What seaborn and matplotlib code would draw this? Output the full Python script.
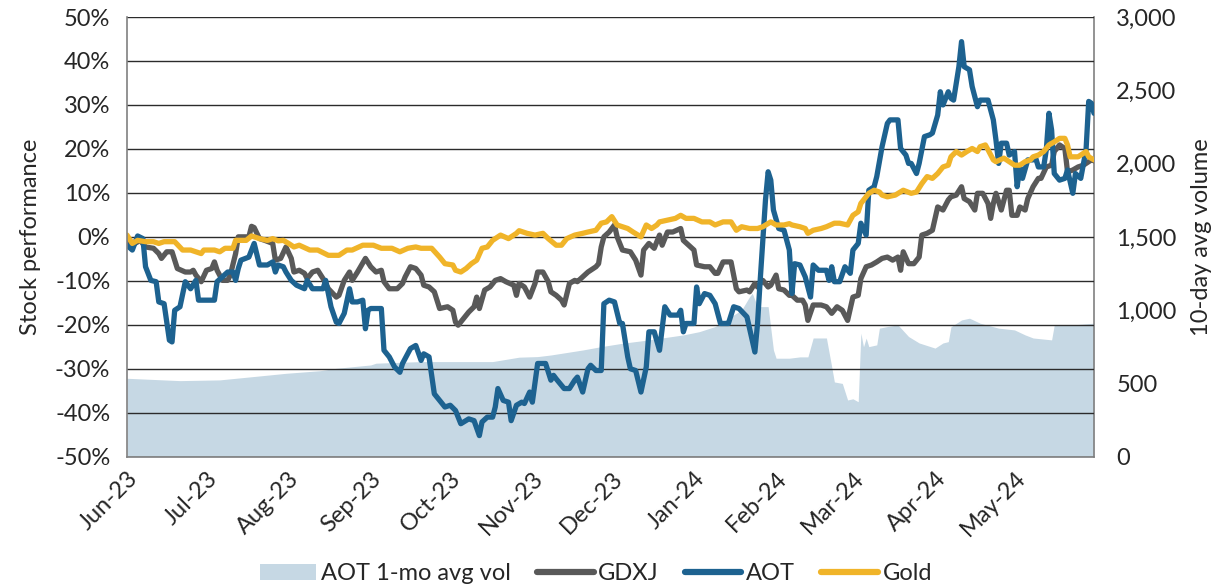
import matplotlib
matplotlib.use("Agg")
import matplotlib.pyplot as plt
import matplotlib.dates as mdates
import matplotlib.ticker as mticker
from matplotlib.patches import Patch
from matplotlib.lines import Line2D
import numpy as np
import pandas as pd
import seaborn as sns

# ---------------- data ----------------
START = "2023-06-01"
END = "2024-05-31"

# days since START, and % performance
aot_day = [0, 2, 4, 6, 7, 9, 11, 12, 14, 16,
           17, 18, 20, 22, 24, 26, 27, 33, 34, 36,
           38, 40, 41, 42, 43, 46, 48, 50, 53, 55,
           56, 57, 59, 60, 62, 64, 67, 68, 70, 74,
           75, 77, 79, 80, 82, 84, 85, 87, 89, 90,
           91, 92, 96, 97, 99, 101, 103, 104, 107, 109,
           111, 112, 114, 116, 118, 120, 122, 124, 126, 129,
           131, 133, 134, 136, 138, 139, 140, 142, 144, 145,
           147, 149, 150, 152, 153, 155, 158, 160, 161, 162,
           165, 167, 169, 170, 172, 174, 175, 177, 179, 180,
           182, 184, 186, 187, 189, 190, 192, 194, 196, 197,
           199, 201, 203, 205, 208, 209, 210, 211, 214, 215,
           216, 218, 220, 222, 224, 227, 229, 231, 234, 236,
           237, 238, 239, 241, 242, 243, 244, 246, 248, 250,
           251, 252, 254, 256, 258, 259, 261, 264, 265, 266,
           267, 269, 271, 273, 274, 276, 277, 279, 280, 282,
           283, 285, 287, 288, 291, 292, 294, 295, 296, 298,
           299, 301, 303, 304, 306, 307, 308, 310, 311, 312,
           314, 315, 316, 318, 319, 321, 322, 325, 327, 328,
           329, 330, 332, 333, 335, 336, 337, 338, 340, 342,
           343, 344, 346, 347, 348, 349, 350, 352, 354, 355,
           357, 358, 360, 362, 363, 364, 365]
aot_pct = [-1.9, -3.0, 0.2, -0.4, -6.8, -9.9, -10.2, -14.8, -15.2, -23.5,
           -23.9, -16.7, -15.9, -10.2, -11.8, -9.9, -14.4, -14.4, -10.2, -9.1,
           -8.0, -8.0, -9.9, -7.2, -5.3, -4.6, -1.5, -6.4, -6.4, -5.7,
           -8.0, -6.4, -6.8, -8.0, -9.9, -11.0, -11.8, -9.9, -11.8, -11.8,
           -9.9, -15.9, -19.4, -19.7, -17.4, -11.8, -14.8, -14.8, -14.4, -20.9,
           -16.7, -16.3, -16.3, -25.8, -27.3, -29.6, -30.8, -28.8, -25.4, -24.7,
           -28.1, -26.6, -27.3, -35.7, -37.2, -38.7, -38.3, -39.5, -42.5, -41.4,
           -41.8, -45.2, -42.1, -41.0, -41.0, -38.7, -34.5, -37.2, -37.6, -41.8,
           -38.3, -37.6, -37.9, -35.3, -37.6, -28.8, -28.8, -32.6, -31.5, -32.3,
           -34.5, -34.5, -32.6, -31.9, -35.3, -30.0, -29.2, -30.4, -30.4, -15.2,
           -14.4, -14.8, -19.7, -19.7, -27.3, -30.0, -30.4, -35.3, -29.6, -21.6,
           -21.6, -25.8, -15.9, -17.8, -17.8, -16.7, -21.6, -19.7, -19.7, -11.4,
           -15.2, -12.9, -13.3, -15.2, -19.7, -19.7, -15.9, -16.3, -18.2, -23.5,
           -26.2, -19.7, -9.9, 8.4, 14.8, 12.9, 6.1, 1.9, 1.5, -3.0,
           -12.9, -6.1, -6.4, -9.1, -13.7, -6.4, -7.6, -7.6, -9.9, -6.8,
           -10.2, -10.2, -6.8, -8.3, -3.0, -1.5, 3.1, 0.4, 10.6, 11.4,
           13.7, 20.5, 25.8, 26.6, 26.6, 20.1, 18.6, 16.7, 16.7, 14.4,
           16.7, 22.8, 23.2, 23.6, 27.7, 33.0, 30.0, 33.0, 31.5, 31.1,
           38.7, 44.4, 38.7, 38.0, 34.2, 29.6, 31.1, 31.1, 26.6, 22.0,
           16.7, 21.3, 21.3, 18.6, 19.4, 11.4, 15.9, 13.3, 17.5, 17.5,
           17.9, 15.9, 15.9, 19.8, 28.1, 24.3, 14.4, 12.9, 13.3, 15.2,
           9.9, 14.4, 13.3, 19.8, 30.8, 30.4, 28.1]

gdxj_day = [0, 3, 5, 7, 10, 12, 13, 15, 17, 19,
            22, 24, 25, 26, 28, 30, 32, 33, 34, 36,
            38, 39, 41, 42, 46, 47, 48, 50, 52, 55,
            56, 58, 60, 62, 63, 65, 67, 68, 70, 72,
            74, 76, 79, 80, 82, 84, 85, 87, 90, 92,
            94, 96, 97, 99, 102, 104, 105, 107, 109, 111,
            112, 114, 116, 118, 121, 123, 124, 125, 127, 129,
            131, 132, 133, 135, 137, 139, 141, 143, 146, 147,
            148, 150, 152, 154, 155, 157, 159, 160, 162, 164,
            165, 167, 169, 170, 172, 174, 175, 177, 178, 179,
            180, 182, 184, 185, 187, 190, 192, 194, 195, 197,
            199, 201, 202, 204, 206, 209, 210, 212, 214, 215,
            218, 220, 222, 223, 225, 228, 230, 231, 234, 235,
            237, 238, 240, 242, 243, 245, 246, 248, 250, 251,
            253, 255, 256, 257, 259, 262, 264, 266, 268, 270,
            272, 274, 276, 277, 279, 281, 283, 285, 287, 289,
            291, 292, 293, 295, 297, 299, 300, 302, 304, 306,
            308, 310, 311, 313, 315, 316, 318, 320, 321, 323,
            325, 326, 327, 328, 330, 332, 333, 334, 336, 337,
            339, 340, 342, 344, 345, 347, 349, 350, 352, 354,
            355, 357, 359, 361, 362, 364, 365]
gdxj_pct = [-1.1, -1.5, -0.8, -2.3, -2.6, -3.8, -4.9, -3.4, -3.4, -7.2,
            -8.0, -8.0, -7.6, -8.7, -10.2, -7.6, -7.2, -5.7, -7.6, -9.9,
            -9.9, -8.7, -3.8, 0.0, 0.0, 2.4, 2.1, -0.4, -0.8, -1.5,
            -5.3, -4.9, -2.3, -4.9, -8.0, -7.6, -8.3, -9.5, -8.0, -7.6,
            -9.5, -11.8, -13.7, -13.3, -9.9, -8.0, -9.9, -8.0, -4.9, -6.8,
            -8.0, -7.6, -10.2, -11.8, -11.8, -10.6, -9.1, -6.8, -7.2, -8.7,
            -11.0, -11.4, -12.5, -16.3, -15.9, -16.7, -19.4, -20.1, -18.6, -17.1,
            -15.9, -13.7, -16.3, -12.1, -11.4, -9.9, -9.5, -10.2, -11.0, -13.3,
            -10.6, -11.4, -13.7, -10.6, -8.0, -8.0, -10.2, -12.5, -13.3, -14.4,
            -15.5, -10.6, -9.9, -10.2, -9.1, -8.0, -7.6, -6.8, -6.1, -2.3,
            0.0, 1.1, 2.7, 0.0, -3.0, -3.4, -5.3, -8.7, -3.0, -1.5,
            -2.6, 0.4, -1.9, 1.1, 1.1, 1.9, -0.8, -1.9, -3.0, -6.4,
            -6.8, -6.8, -8.3, -8.3, -5.7, -5.7, -11.8, -12.5, -12.1, -12.5,
            -10.6, -11.4, -9.9, -11.4, -11.0, -8.7, -11.8, -12.1, -13.3, -13.3,
            -14.4, -14.4, -15.5, -19.0, -15.5, -15.5, -15.9, -17.4, -15.9, -16.7,
            -19.0, -13.7, -13.3, -9.5, -6.8, -6.4, -5.7, -4.9, -4.6, -5.3,
            -4.6, -7.6, -3.4, -6.1, -6.1, -4.6, 0.4, 0.8, 1.5, 6.8,
            6.1, 8.4, 9.1, 9.5, 11.4, 8.7, 8.0, 6.1, 9.9, 9.9,
            7.6, 4.2, 7.6, 9.9, 6.1, 10.6, 10.6, 4.9, 4.9, 6.8,
            6.1, 8.7, 11.4, 13.3, 13.3, 15.9, 16.3, 19.4, 20.9, 20.1,
            14.8, 15.2, 15.9, 16.3, 16.7, 17.5, 17.3]

gold_day = [0, 2, 4, 7, 10, 12, 14, 18, 21, 24,
            28, 29, 33, 35, 37, 40, 41, 45, 47, 50,
            53, 55, 57, 59, 61, 63, 65, 69, 72, 76,
            80, 83, 85, 89, 93, 96, 100, 103, 106, 109,
            111, 115, 118, 120, 123, 124, 126, 128, 130, 132,
            134, 136, 138, 140, 141, 144, 147, 148, 151, 154,
            157, 159, 162, 164, 166, 169, 172, 174, 177, 179,
            181, 183, 185, 187, 189, 191, 194, 196, 198, 200,
            201, 204, 207, 209, 211, 214, 217, 220, 222, 225,
            228, 230, 232, 235, 238, 240, 243, 245, 248, 250,
            251, 254, 256, 257, 259, 262, 264, 267, 269, 272,
            274, 276, 277, 280, 282, 284, 285, 287, 290, 293,
            296, 298, 300, 302, 304, 306, 308, 310, 311, 313,
            315, 317, 319, 321, 322, 324, 325, 327, 328, 331,
            333, 335, 337, 339, 341, 342, 344, 346, 348, 350,
            352, 354, 355, 356, 359, 360, 362, 363, 365]
gold_pct = [0.4, -1.5, -0.8, -1.1, -1.1, -1.5, -1.1, -1.1, -3.0, -3.0,
            -3.8, -3.0, -3.0, -3.4, -2.6, -2.6, -0.8, -0.8, 0.2, -0.4,
            -0.8, -0.4, -0.9, -0.8, -1.5, -2.3, -1.9, -3.0, -3.0, -4.2,
            -4.2, -3.0, -3.0, -1.9, -1.9, -2.6, -2.6, -3.4, -2.6, -2.3,
            -2.6, -2.6, -4.6, -6.1, -6.4, -7.6, -8.0, -7.2, -6.1, -5.3,
            -2.6, -2.3, -0.8, 0.0, 0.4, -0.4, 0.8, 1.4, 0.8, 0.4,
            0.8, -0.4, -1.9, -1.9, -0.4, 0.4, 0.8, 1.1, 1.5, 3.1,
            3.4, 4.6, 2.7, 2.3, 1.9, 1.1, 0.0, 2.7, 1.9, 2.7,
            3.4, 3.8, 4.2, 4.9, 4.2, 4.2, 3.4, 3.4, 2.7, 3.4,
            3.4, 1.5, 2.3, 1.9, 1.9, 2.3, 3.4, 2.7, 2.7, 3.0,
            2.7, 2.3, 1.9, 0.8, 1.5, 1.9, 2.3, 3.1, 3.1, 2.7,
            4.9, 5.7, 7.6, 9.9, 10.6, 10.2, 9.5, 9.1, 9.5, 10.6,
            9.9, 10.2, 12.1, 13.7, 13.3, 14.4, 15.9, 16.3, 18.2, 19.4,
            18.6, 19.4, 20.1, 19.4, 20.5, 20.9, 19.8, 17.5, 17.1, 17.9,
            17.1, 16.3, 16.3, 17.1, 17.5, 18.2, 18.6, 19.4, 20.9, 21.6,
            22.4, 22.4, 20.9, 18.2, 18.2, 18.6, 19.4, 18.2, 17.5]

# AOT 1-month average volume (right axis)
vol_day = [0, 20, 35, 54, 60, 73, 79, 92, 94, 111,
           126, 138, 148, 155, 160, 172, 179, 187, 197, 210,
           216, 222, 228, 232, 235, 236, 238, 242, 244, 245,
           250, 254, 257, 259, 264, 266, 267, 270, 272, 274,
           276, 277, 278, 279, 280, 283, 284, 287, 291, 295,
           299, 305, 308, 310, 311, 315, 318, 322, 329, 335,
           339, 342, 349, 350, 357, 365]
vol_val = [535, 519, 524, 558, 569, 587, 603, 626, 638, 649,
           649, 649, 679, 683, 694, 728, 751, 774, 797, 831,
           853, 888, 956, 1001, 1092, 1115, 1024, 1024, 728, 672,
           672, 681, 681, 810, 810, 613, 510, 500, 387, 395,
           375, 843, 750, 809, 751, 763, 877, 888, 899, 820,
           776, 741, 776, 785, 886, 933, 945, 911, 877, 865,
           831, 810, 797, 899, 899, 911]

series_names = ["GDXJ", "AOT", "Gold"]
series_colors = ["#595959", "#1d6290", "#f0b429"]
area_name = "AOT 1-mo avg vol"
area_color = "#c6d8e4"

# ---------------- build tables ----------------
start = pd.Timestamp(START)


def to_dates(days):
    return start + pd.to_timedelta(days, unit="D")


lines = {
    "GDXJ": pd.DataFrame({"date": to_dates(gdxj_day), "pct": gdxj_pct}),
    "AOT": pd.DataFrame({"date": to_dates(aot_day), "pct": aot_pct}),
    "Gold": pd.DataFrame({"date": to_dates(gold_day), "pct": gold_pct}),
}
vol_df = pd.DataFrame({"date": to_dates(vol_day), "vol": vol_val})

# ---------------- figure ----------------
sns.set_theme(style="white")
plt.rcParams["font.family"] = ["Lato", "DejaVu Sans"]
FS = 17

W, H = 1216, 585
fig = plt.figure(figsize=(W / 100, H / 100), dpi=100)
L, R, T, B = 127, 1094, 17, 456.7
ax = fig.add_axes([L / W, 1 - B / H, (R - L) / W, (B - T) / H])
ax2 = ax.twinx()
ax.set_zorder(ax2.get_zorder() + 1)
ax.patch.set_visible(False)

# area on secondary axis
ax2.fill_between(vol_df["date"], vol_df["vol"], 0, color=area_color, lw=0)
ax2.set_ylim(0, 3000)
ax2.yaxis.set_major_locator(mticker.MultipleLocator(500))
ax2.yaxis.set_major_formatter(mticker.FuncFormatter(lambda v, p: f"{int(v):,}"))
ax2.set_ylabel("10-day avg volume", fontsize=FS, labelpad=10)

# gridlines (above the area, below lines)
ax.set_ylim(-50, 50)
ax.yaxis.set_major_locator(mticker.MultipleLocator(10))
ax.yaxis.set_major_formatter(mticker.FuncFormatter(lambda v, p: f"{int(round(v))}%"))
ax.grid(axis="y", color="#2b2b2b", lw=1.0)
ax.grid(axis="x", visible=False)
ax.set_axisbelow(True)

for name, color in zip(series_names, series_colors):
    df = lines[name]
    sns.lineplot(data=df, x="date", y="pct", ax=ax, color=color, lw=3.8,
                 estimator=None, sort=False, legend=False)

ax.set_xlim(start, pd.Timestamp(END))
ax.xaxis.set_major_locator(mdates.MonthLocator())
ax.xaxis.set_major_formatter(mdates.DateFormatter("%b-%y"))
for lbl in ax.get_xticklabels():
    lbl.set_rotation(45)
    lbl.set_ha("right")
    lbl.set_rotation_mode("anchor")

ax.set_xlabel("")
ax.set_ylabel("Stock performance", fontsize=FS, labelpad=10)

ax.tick_params(axis="both", length=0, labelsize=FS, pad=12)
ax.tick_params(axis="x", pad=8)
ax2.tick_params(axis="y", length=0, labelsize=FS, pad=16)

for a in (ax, ax2):
    for s in a.spines.values():
        s.set_visible(False)
ax.spines["left"].set_visible(True)
ax.spines["left"].set_color("#808080")
ax.spines["left"].set_linewidth(1.2)
ax.spines["bottom"].set_visible(True)
ax.spines["bottom"].set_color("#808080")
ax.spines["bottom"].set_linewidth(1.2)
ax2.spines["right"].set_visible(True)
ax2.spines["right"].set_color("#808080")
ax2.spines["right"].set_linewidth(1.2)

# legend
handles = [Patch(facecolor=area_color, edgecolor="none")]
labels = [area_name]
for name, color in zip(series_names, series_colors):
    handles.append(Line2D([0], [0], color=color, lw=4.5, solid_capstyle="round"))
    labels.append(name)
fig.legend(handles, labels, loc="lower center", ncol=4, frameon=False,
           bbox_to_anchor=(0.49, -0.035), fontsize=FS, handlelength=2.4,
           handletextpad=0.2, columnspacing=1.1)

fig.savefig("out.png", dpi=100)
